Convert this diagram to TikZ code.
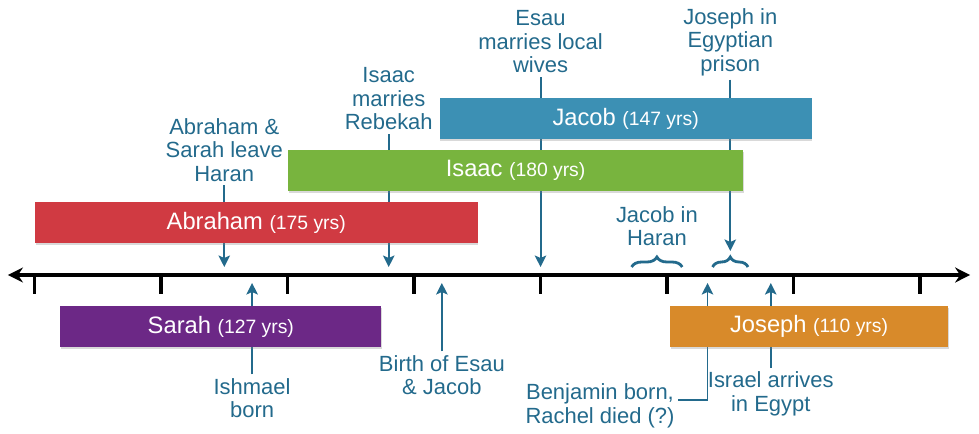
\documentclass[tikz,border=0pt]{standalone}
\usepackage{fontspec}
\setmainfont{Liberation Sans}
\usetikzlibrary{arrows.meta,decorations.pathreplacing,shadows}

\definecolor{eventblue}{RGB}{35,106,140}
\definecolor{abrahamred}{RGB}{208,58,66}
\definecolor{isaacgreen}{RGB}{120,180,62}
\definecolor{jacobblue}{RGB}{60,144,180}
\definecolor{sarahpurple}{RGB}{108,40,134}
\definecolor{josephorange}{RGB}{216,138,42}

\tikzset{
  event/.style={text=eventblue, align=center, inner sep=2pt, font=\fontsize{12.5}{13.4}\selectfont},
  evt/.style={eventblue, line width=1.1pt, -{Stealth[length=2.3mm,width=2.3mm,inset=0.5mm]}},
  period/.style={eventblue, line width=1.6pt, decorate, decoration={brace,amplitude=0.2cm}},
  bar/.style={minimum height=0.82cm, inner sep=0pt, anchor=west, text=white,
    font=\fontsize{13.5}{14}\selectfont,
    drop shadow={opacity=0.3,shadow xshift=0.4pt,shadow yshift=-1pt}},
}

\begin{document}
\begin{tikzpicture}[x=0.506mm, y=1cm]
	\useasboundingbox (-13.64,0) rectangle (373.3,8.66);
	% time line, one tick every 50 years
	\draw[line width=2pt, {Stealth[length=3mm,width=3mm]}-{Stealth[length=3mm,width=3mm]}] (-10.5,3.16) -- (369.8,3.16);
\foreach \t in {0,50,...,350}
	\draw[line width=2pt] (\t,3.16) -- (\t,2.78);
	\coordinate (above) at (0,3.32);
	\coordinate (below) at (0,3.0);
	\coordinate (stay) at (0,3.64);
	\coordinate (rachel) at (266,3.0);

	% events above the line
	\node[event] (leave) at (75,5.66) {Abraham \&\\Sarah leave\\Haran};
	\node[event] (marries) at (140,6.68) {Isaac\\marries\\Rebekah};
	\node[event] (wives) at (200,7.82) {Esau\\marries local\\wives};
	\node[event] (prison) at (275,7.82) {Joseph in\\Egyptian\\prison};
	\node[event] (haran) at (246,4.14) {Jacob in\\Haran};
\foreach \e in {leave, marries, wives}
	\draw[evt] (\e) -- (\e |- above);
	\draw[period] (236,3.32) -- (256,3.32);
	\draw[period] (268,3.32) -- (282,3.32);
	\draw[evt] (prison) -- (prison |- stay);

	% events below the line
	\node[event] (ishmael) at (86,0.70) {Ishmael\\born};
	\node[event] (twins) at (161,1.16) {Birth of Esau\\\& Jacob};
	\node[event] (egypt) at (291,0.78) {Israel arrives\\in Egypt};
	\node[event] (benjamin) at (223.5,0.54) {Benjamin born,\\Rachel died (?)};
\foreach \e in {ishmael, twins, egypt}
	\draw[evt] (\e) -- (\e |- below);
	\draw[evt] ([yshift=0.12cm]benjamin.east) -| (rachel);

	% life spans
\foreach \who/\born/\age/\y/\col in {Abraham/0/175/4.21/abrahamred, Isaac/100/180/5.25/isaacgreen,
		Jacob/160/147/6.29/jacobblue, Sarah/10/127/2.13/sarahpurple, Joseph/251/110/2.13/josephorange}
	\node[bar, fill=\col, minimum width=\age*0.506mm] (\who) at (\born,\y)
		{\who\ {\fontsize{11}{11}\selectfont(\age\ yrs)}};
\end{tikzpicture}
\end{document}
